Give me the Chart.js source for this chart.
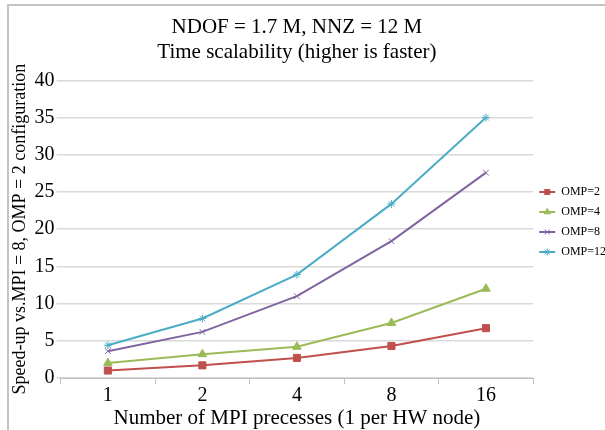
<!DOCTYPE html>
<html>
<head>
<meta charset="utf-8">
<script src="https://cdn.jsdelivr.net/npm/chart.js@4"></script>
<style>
    body { margin: 0; background: #fff; }
    .wrap { position: relative; width: 605px; height: 430px; }
    .frame { position: absolute; left: 7px; top: 4px; right: 0; bottom: 0;
             border-left: 2px solid #c4c4c4; border-top: 2px solid #c4c4c4; }
    canvas { position: absolute; left: 0; top: 0; }
</style>
</head>
<body>
<div class="wrap">
    <div class="frame"></div>
    <canvas id="chart" width="605" height="430"></canvas>
</div>
<script>
// chart values
const mpiProcesses = ['1', '2', '4', '8', '16'];
const omp2 = [1.0, 1.7, 2.7, 4.3, 6.7];
const omp4 = [2.0, 3.2, 4.2, 7.4, 12.0];
const omp8 = [3.6, 6.2, 11.0, 18.4, 27.6];
const omp12 = [4.4, 8.0, 13.9, 23.4, 35.0];
const seriesNames = ['OMP=2', 'OMP=4', 'OMP=8', 'OMP=12'];
const yTicks = [0, 5, 10, 15, 20, 25, 30, 35, 40];

const serif = "'Liberation Serif', 'Times New Roman', serif";
const legendLine = 16;

function series(label, data, color, marker, size) {
    return {
        label: label,
        data: data,
        borderColor: color,
        backgroundColor: color,
        borderWidth: 2,
        pointStyle: marker,
        pointRadius: size,
        pointBorderWidth: 1,
        pointBorderColor: color,
        tension: 0
    };
}

// excel style legend: a short line with the marker on it
const legendMarkers = {
    id: 'legendMarkers',
    afterDraw(chart) {
        const ctx = chart.ctx;
        const boxes = chart.legend.legendHitBoxes || [];
        chart.legend.legendItems.forEach((item, i) => {
            const box = boxes[i];
            if (!box) return;
            const ds = chart.data.datasets[item.datasetIndex];
            const cy = box.top + box.height / 2;
            ctx.save();
            ctx.strokeStyle = ds.borderColor;
            ctx.fillStyle = ds.backgroundColor;
            ctx.lineWidth = 2;
            ctx.beginPath();
            ctx.moveTo(box.left, cy);
            ctx.lineTo(box.left + legendLine, cy);
            ctx.stroke();
            ctx.lineWidth = 1;
            Chart.helpers.drawPoint(ctx, { pointStyle: ds.pointStyle, radius: 3.6, rotation: 0, borderWidth: 1 },
                box.left + legendLine / 2, cy);
            ctx.restore();
        });
    }
};

new Chart(document.getElementById('chart'), {
    type: 'line',
    data: {
        labels: mpiProcesses,
        datasets: [
            series(seriesNames[0], omp2, '#c0504d', 'rect', 5),
            series(seriesNames[1], omp4, '#9bbb59', 'triangle', 5),
            series(seriesNames[2], omp8, '#8064a2', 'crossRot', 4),
            series(seriesNames[3], omp12, '#4bacc6', 'star', 4)
        ]
    },
    plugins: [legendMarkers],
    options: {
        responsive: false,
        animation: false,
        layout: { padding: { left: 9, right: -11, top: 15, bottom: 1 } },
        plugins: {
            title: {
                display: true,
                fullSize: false,
                text: ['NDOF = 1.7 M, NNZ = 12 M', 'Time scalability (higher is faster)'],
                color: '#000',
                font: { family: serif, size: 21, weight: 'normal', lineHeight: 1.2 },
                padding: { top: 0, bottom: 15 }
            },
            legend: {
                position: 'right',
                align: 'center',
                labels: {
                    color: '#000',
                    font: { family: serif, size: 12, lineHeight: 1.0 },
                    boxWidth: legendLine,
                    boxHeight: 14,
                    padding: 6,
                    generateLabels: chart => Chart.defaults.plugins.legend.labels.generateLabels(chart)
                        .map(l => Object.assign(l, { fillStyle: 'rgba(0,0,0,0)', strokeStyle: 'rgba(0,0,0,0)', lineWidth: 0 }))
                }
            },
            tooltip: { enabled: false }
        },
        scales: {
            x: {
                offset: true,
                grid: { display: true, drawOnChartArea: false, drawTicks: true, offset: true,
                        tickLength: 6, color: '#bfbfbf' },
                border: { display: true, color: '#bfbfbf' },
                ticks: { color: '#000', font: { family: serif, size: 20, lineHeight: 1.0 }, padding: 2 },
                title: {
                    display: true,
                    text: 'Number of MPI precesses (1 per HW node)',
                    color: '#000',
                    font: { family: serif, size: 21, lineHeight: 1.0 },
                    padding: { top: 0, bottom: 0 }
                }
            },
            y: {
                min: 0,
                max: 40,
                afterBuildTicks: axis => { axis.ticks = yTicks.map(v => ({ value: v })); },
                grid: { color: '#d9d9d9', tickLength: 4, lineWidth: 1.5 },
                border: { display: false },
                ticks: { color: '#000', font: { family: serif, size: 20 }, padding: 2 },
                title: {
                    display: true,
                    text: 'Speed-up vs.MPI = 8, OMP = 2 configuration',
                    color: '#000',
                    font: { family: serif, size: 18 },
                    padding: { top: 0, bottom: 2 }
                }
            }
        }
    }
});
</script>
</body>
</html>
